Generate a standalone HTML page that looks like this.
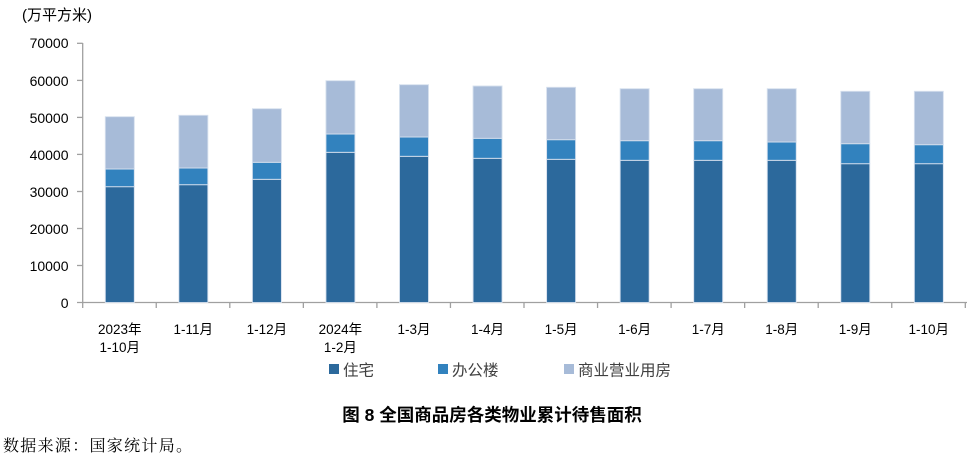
<!DOCTYPE html>
<html><head><meta charset="utf-8"><style>
html,body{margin:0;padding:0;background:#fff;}
svg{display:block;}
text{font-family:"Liberation Sans","Noto Sans CJK SC",sans-serif;}
</style></head><body>
<svg width="974" height="457" viewBox="0 0 974 457" xmlns="http://www.w3.org/2000/svg">
<text x="22" y="20" font-size="15" fill="#000">(万平方米)</text>
<g font-size="14" fill="#000" text-anchor="end">
<text x="68.5" y="48">70000</text>
<text x="68.5" y="86">60000</text>
<text x="68.5" y="123">50000</text>
<text x="68.5" y="160">40000</text>
<text x="68.5" y="197">30000</text>
<text x="68.5" y="234">20000</text>
<text x="68.5" y="271">10000</text>
<text x="68.5" y="308">0</text>
</g>
<g stroke="#A0A0A0" stroke-width="1.3">
<line x1="82.7" y1="43" x2="82.7" y2="303"/>
<line x1="77" y1="43.3" x2="82.7" y2="43.3"/>
<line x1="77" y1="80.4" x2="82.7" y2="80.4"/>
<line x1="77" y1="117.4" x2="82.7" y2="117.4"/>
<line x1="77" y1="154.4" x2="82.7" y2="154.4"/>
<line x1="77" y1="191.5" x2="82.7" y2="191.5"/>
<line x1="77" y1="228.5" x2="82.7" y2="228.5"/>
<line x1="77" y1="265.5" x2="82.7" y2="265.5"/>
<line x1="77" y1="302.5" x2="967" y2="302.5"/>
</g>
<g id="bars" stroke="#D6E0EE" stroke-width="0.9"></g>
<g stroke="#A0A0A0" stroke-width="1.3" id="xticks"></g>
<g font-size="13.5" fill="#000" text-anchor="middle" id="xl">
<text x="119.8" y="334">2023年</text><text x="119.8" y="352">1-10月</text>
<text x="193.3" y="334">1-11月</text>
<text x="266.9" y="334">1-12月</text>
<text x="340.4" y="334">2024年</text><text x="340.4" y="352">1-2月</text>
<text x="414" y="334">1-3月</text>
<text x="487.5" y="334">1-4月</text>
<text x="561.1" y="334">1-5月</text>
<text x="634.6" y="334">1-6月</text>
<text x="708.2" y="334">1-7月</text>
<text x="781.7" y="334">1-8月</text>
<text x="855.3" y="334">1-9月</text>
<text x="928.8" y="334">1-10月</text>
</g>
<rect x="329" y="364" width="10" height="10" fill="#2C699C"/>
<text x="343" y="375.5" font-size="15.5" fill="#404040">住宅</text>
<rect x="438" y="364" width="10" height="10" fill="#3282BE"/>
<text x="452" y="375.5" font-size="15.5" fill="#404040">办公楼</text>
<rect x="564" y="364" width="10" height="10" fill="#A7BBD8"/>
<text x="578" y="375.5" font-size="15.5" fill="#404040">商业营业用房</text>
<text x="492" y="421" font-size="17.5" font-weight="bold" fill="#000" text-anchor="middle">图 8 全国商品房各类物业累计待售面积</text>
<text x="3" y="451" font-size="16" fill="#000" letter-spacing="1.3" style="font-family:'Noto Serif CJK SC','Liberation Serif',serif">数据来源：国家统计局。</text>
<script>
(function(){
var d=[[116.7,169,186.7],[115.3,168,184.7],[108.7,162.3,179.3],[80.7,134,152.3],[84.7,137,156.3],[86,138.3,158.3],[87.3,139.7,159.3],[88.7,140.7,160.3],[88.7,140.7,160.3],[88.7,142,160.3],[91.3,143.7,163.7],[91.3,144.7,163.7]];
var ns="http://www.w3.org/2000/svg",g=document.getElementById("bars"),t=document.getElementById("xticks");
var base=302.5;
function r(x,y,h,c){var e=document.createElementNS(ns,"rect");e.setAttribute("x",x);e.setAttribute("y",y);e.setAttribute("width",29);e.setAttribute("height",h);e.setAttribute("fill",c);g.appendChild(e);}
for(var i=0;i<12;i++){var cx=119.8+73.55*i,x=cx-14.5,v=d[i];
r(x,v[2],base-v[2],"#2C699C");r(x,v[1],v[2]-v[1],"#3282BE");r(x,v[0],v[1]-v[0],"#A7BBD8");}
for(var k=0;k<=12;k++){var tx=82.7+73.55*k;var l=document.createElementNS(ns,"line");l.setAttribute("x1",tx);l.setAttribute("x2",tx);l.setAttribute("y1",302.5);l.setAttribute("y2",308);t.appendChild(l);}
})();
</script>
</svg>
</body></html>
